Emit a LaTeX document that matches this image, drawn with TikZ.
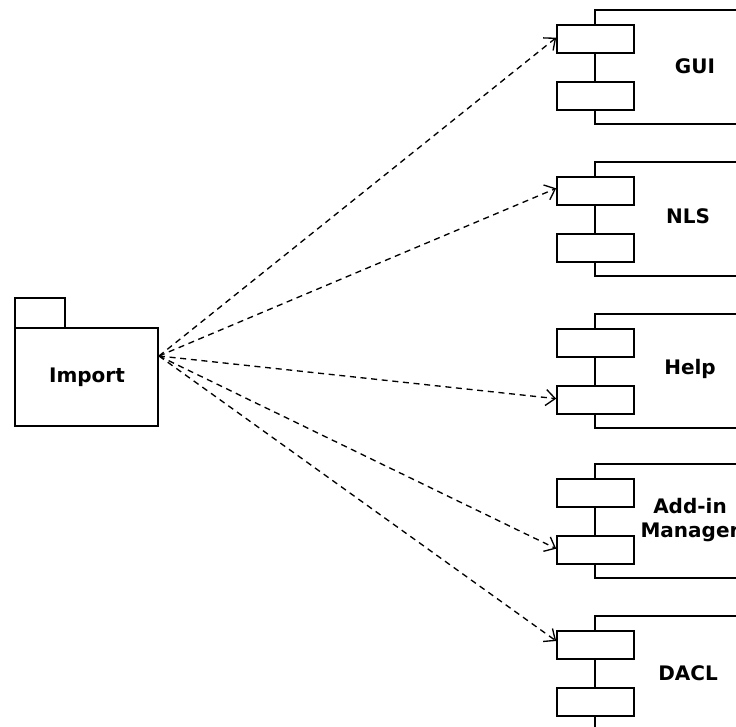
\documentclass[tikz,border=0pt]{standalone}
\usepackage{fontspec}
\setmainfont{DejaVu Sans}
\usetikzlibrary{arrows.meta}

\tikzset{every picture/.style={line width=1.2pt}}
\tikzset{
  port/.style={draw, fill=white, rectangle, minimum width=57.75pt, minimum height=21pt, inner sep=0pt},
  lbl/.style={font=\bfseries\fontsize{15}{17.5}\selectfont, align=center, inner sep=0pt},
  dep/.style={dash pattern=on 4.5pt off 3.5pt, line width=1pt, -{Straight Barb[length=7pt,width=12pt]}}
}

\begin{document}
\begin{tikzpicture}[x=0.75pt,y=0.75pt,yscale=-1,xscale=1]
\useasboundingbox (0,0) rectangle (736,727);
\clip (0,0) rectangle (736,727);

%Shape: Package Import
\draw (15,328) -- (15,298) -- (65,298) -- (65,328) ;
\node [draw, rectangle, minimum width=107.25pt, minimum height=73.5pt, inner sep=0pt] (imp) at (86.5,377) {};
\node [lbl] (impl) at (87,377) {Import};
\coordinate (hub) at (159,356);

%Shape: Component GUI
\draw (595,10) rectangle (800,124) ;
\node [port] (gui1) at (595.5,39) {};
\node [port] (gui2) at (595.5,96) {};
\node [lbl] (guil) at (695,66) {GUI};

%Shape: Component NLS
\draw (595,162) rectangle (800,276) ;
\node [port] (nls1) at (595.5,191) {};
\node [port] (nls2) at (595.5,248) {};
\node [lbl] (nlsl) at (688,216) {NLS};

%Shape: Component Help
\draw (595,314) rectangle (800,428) ;
\node [port] (hlp1) at (595.5,343) {};
\node [port] (hlp2) at (595.5,400) {};
\node [lbl] (hlpl) at (690,369) {Help};

%Shape: Component Add-in Manager
\draw (595,464) rectangle (800,578) ;
\node [port] (add1) at (595.5,493) {};
\node [port] (add2) at (595.5,550) {};
\node [lbl] (addl) at (690,520) {Add-in\\Manager};

%Shape: Component DACL
\draw (595,616) rectangle (800,730) ;
\node [port] (dcl1) at (595.5,645) {};
\node [port] (dcl2) at (595.5,702) {};
\node [lbl] (dcll) at (688,673) {DACL};

% Dependencies
\draw [dep] (hub) -- ([yshift=-1pt]gui1.west) ;
\draw [dep] (hub) -- ([yshift=-2pt]nls1.west) ;
\draw [dep] (hub) -- ([yshift=-1pt]hlp2.west) ;
\draw [dep] (hub) -- ([yshift=-1pt]add2.west) ;
\draw [dep] (hub) -- ([yshift=-3pt]dcl1.west) ;

\end{tikzpicture}
\end{document}
